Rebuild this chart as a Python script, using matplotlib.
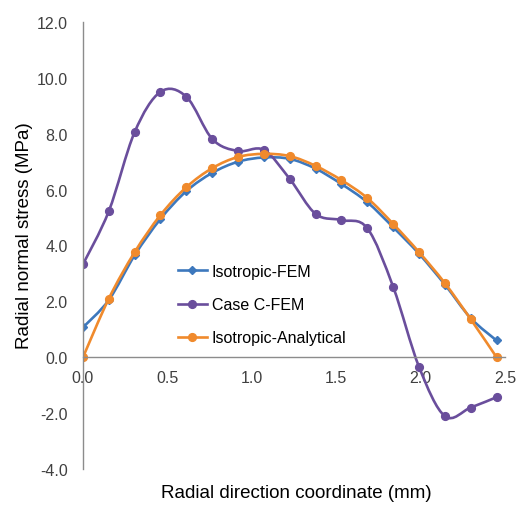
import matplotlib

matplotlib.use("Agg")
import matplotlib.pyplot as plt
import numpy as np
from matplotlib.lines import Line2D
from matplotlib.patches import PathPatch
from matplotlib.path import Path
from matplotlib.ticker import FormatStrFormatter, MultipleLocator

plt.rcParams.update(
    {
        "font.family": ["Liberation Sans", "DejaVu Sans"],
        "axes.unicode_minus": False,
    }
)

# Radial coordinate of the sampled nodes (mm)
radius = [0.0, 0.153, 0.306, 0.459, 0.613, 0.766, 0.919, 1.072, 1.225,
          1.378, 1.531, 1.684, 1.838, 1.991, 2.144, 2.297, 2.45]

# Radial normal stress (MPa)
iso_fem = [1.07, 2.05, 3.65, 4.95, 5.95, 6.60, 7.00, 7.15, 7.10,
           6.75, 6.20, 5.55, 4.65, 3.70, 2.60, 1.40, 0.60]
case_c_fem = [3.33, 5.23, 8.06, 9.50, 9.32, 7.81, 7.38, 7.42, 6.38,
              5.13, 4.91, 4.62, 2.51, -0.35, -2.11, -1.80, -1.43]
iso_analytical = [0.0, 2.10, 3.76, 5.09, 6.09, 6.77, 7.17, 7.28, 7.20,
                  6.85, 6.34, 5.70, 4.77, 3.76, 2.65, 1.36, 0.0]

series = [
    ("Isotropic-FEM", iso_fem, "#3d78bd", "D", 4.2),
    ("Case C-FEM", case_c_fem, "#6a4e9c", "o", 5.6),
    ("Isotropic-Analytical", iso_analytical, "#f08a2c", "o", 5.6),
]


def smooth_path(x, y):
    """Bezier path through the points, like a spreadsheet 'smoothed line'."""
    pts = np.column_stack([x, y]).astype(float)
    ext = np.vstack([pts[0], pts, pts[-1]])
    verts = [pts[0]]
    codes = [Path.MOVETO]
    for i in range(len(pts) - 1):
        p0, p1, p2, p3 = ext[i], ext[i + 1], ext[i + 2], ext[i + 3]
        verts += [p1 + (p2 - p0) / 6.0, p2 - (p3 - p1) / 6.0, p2]
        codes += [Path.CURVE4] * 3
    return Path(verts, codes)


fig = plt.figure(figsize=(5.22, 5.06), dpi=100)
ax = fig.add_axes([83 / 522, 1 - 470 / 506, (505 - 83) / 522, (470 - 23) / 506])

handles = []
for i, (label, values, color, marker, ms) in enumerate(series):
    ax.add_patch(
        PathPatch(smooth_path(radius, values), facecolor="none", edgecolor=color,
                  linewidth=1.9, zorder=2 + i * 0.1, capstyle="round",
                  joinstyle="round")
    )
    ax.plot(radius, values, linestyle="none", marker=marker, markersize=ms,
            color=color, zorder=2.05 + i * 0.1)
    handles.append(Line2D([], [], color=color, linewidth=1.9, marker=marker,
                          markersize=ms))

ax.set_xlim(0, 2.5)
ax.set_ylim(-4, 12)
ax.xaxis.set_major_locator(MultipleLocator(0.5))
ax.yaxis.set_major_locator(MultipleLocator(2.0))
ax.xaxis.set_major_formatter(FormatStrFormatter("%.1f"))
ax.yaxis.set_major_formatter(FormatStrFormatter("%.1f"))

for side in ("top", "right"):
    ax.spines[side].set_visible(False)
ax.spines["bottom"].set_position(("data", 0))
for side in ("left", "bottom"):
    ax.spines[side].set_color("#8c8c8c")
    ax.spines[side].set_linewidth(1.0)
ax.tick_params(axis="both", length=0, labelsize=11.5, labelcolor="#404040")
ax.tick_params(axis="x", pad=9)
ax.tick_params(axis="y", pad=11)

fig.text(296 / 522, 1 - 494 / 506, "Radial direction coordinate (mm)",
         ha="center", va="center", fontsize=13.5)
fig.text(25 / 522, 1 - 236 / 506, "Radial normal stress (MPa)",
         ha="center", va="center", rotation=90, fontsize=13.5)

ax.legend(
    handles,
    [s[0] for s in series],
    loc="upper left",
    bbox_to_anchor=(178 / 522, 1 - 265 / 506),
    bbox_transform=fig.transFigure,
    frameon=False,
    fontsize=11.5,
    handlelength=1.8,
    handletextpad=0.3,
    labelspacing=1.14,
    borderpad=0.0,
    borderaxespad=0.0,
)

fig.savefig("out.png", dpi=100, facecolor="white")
